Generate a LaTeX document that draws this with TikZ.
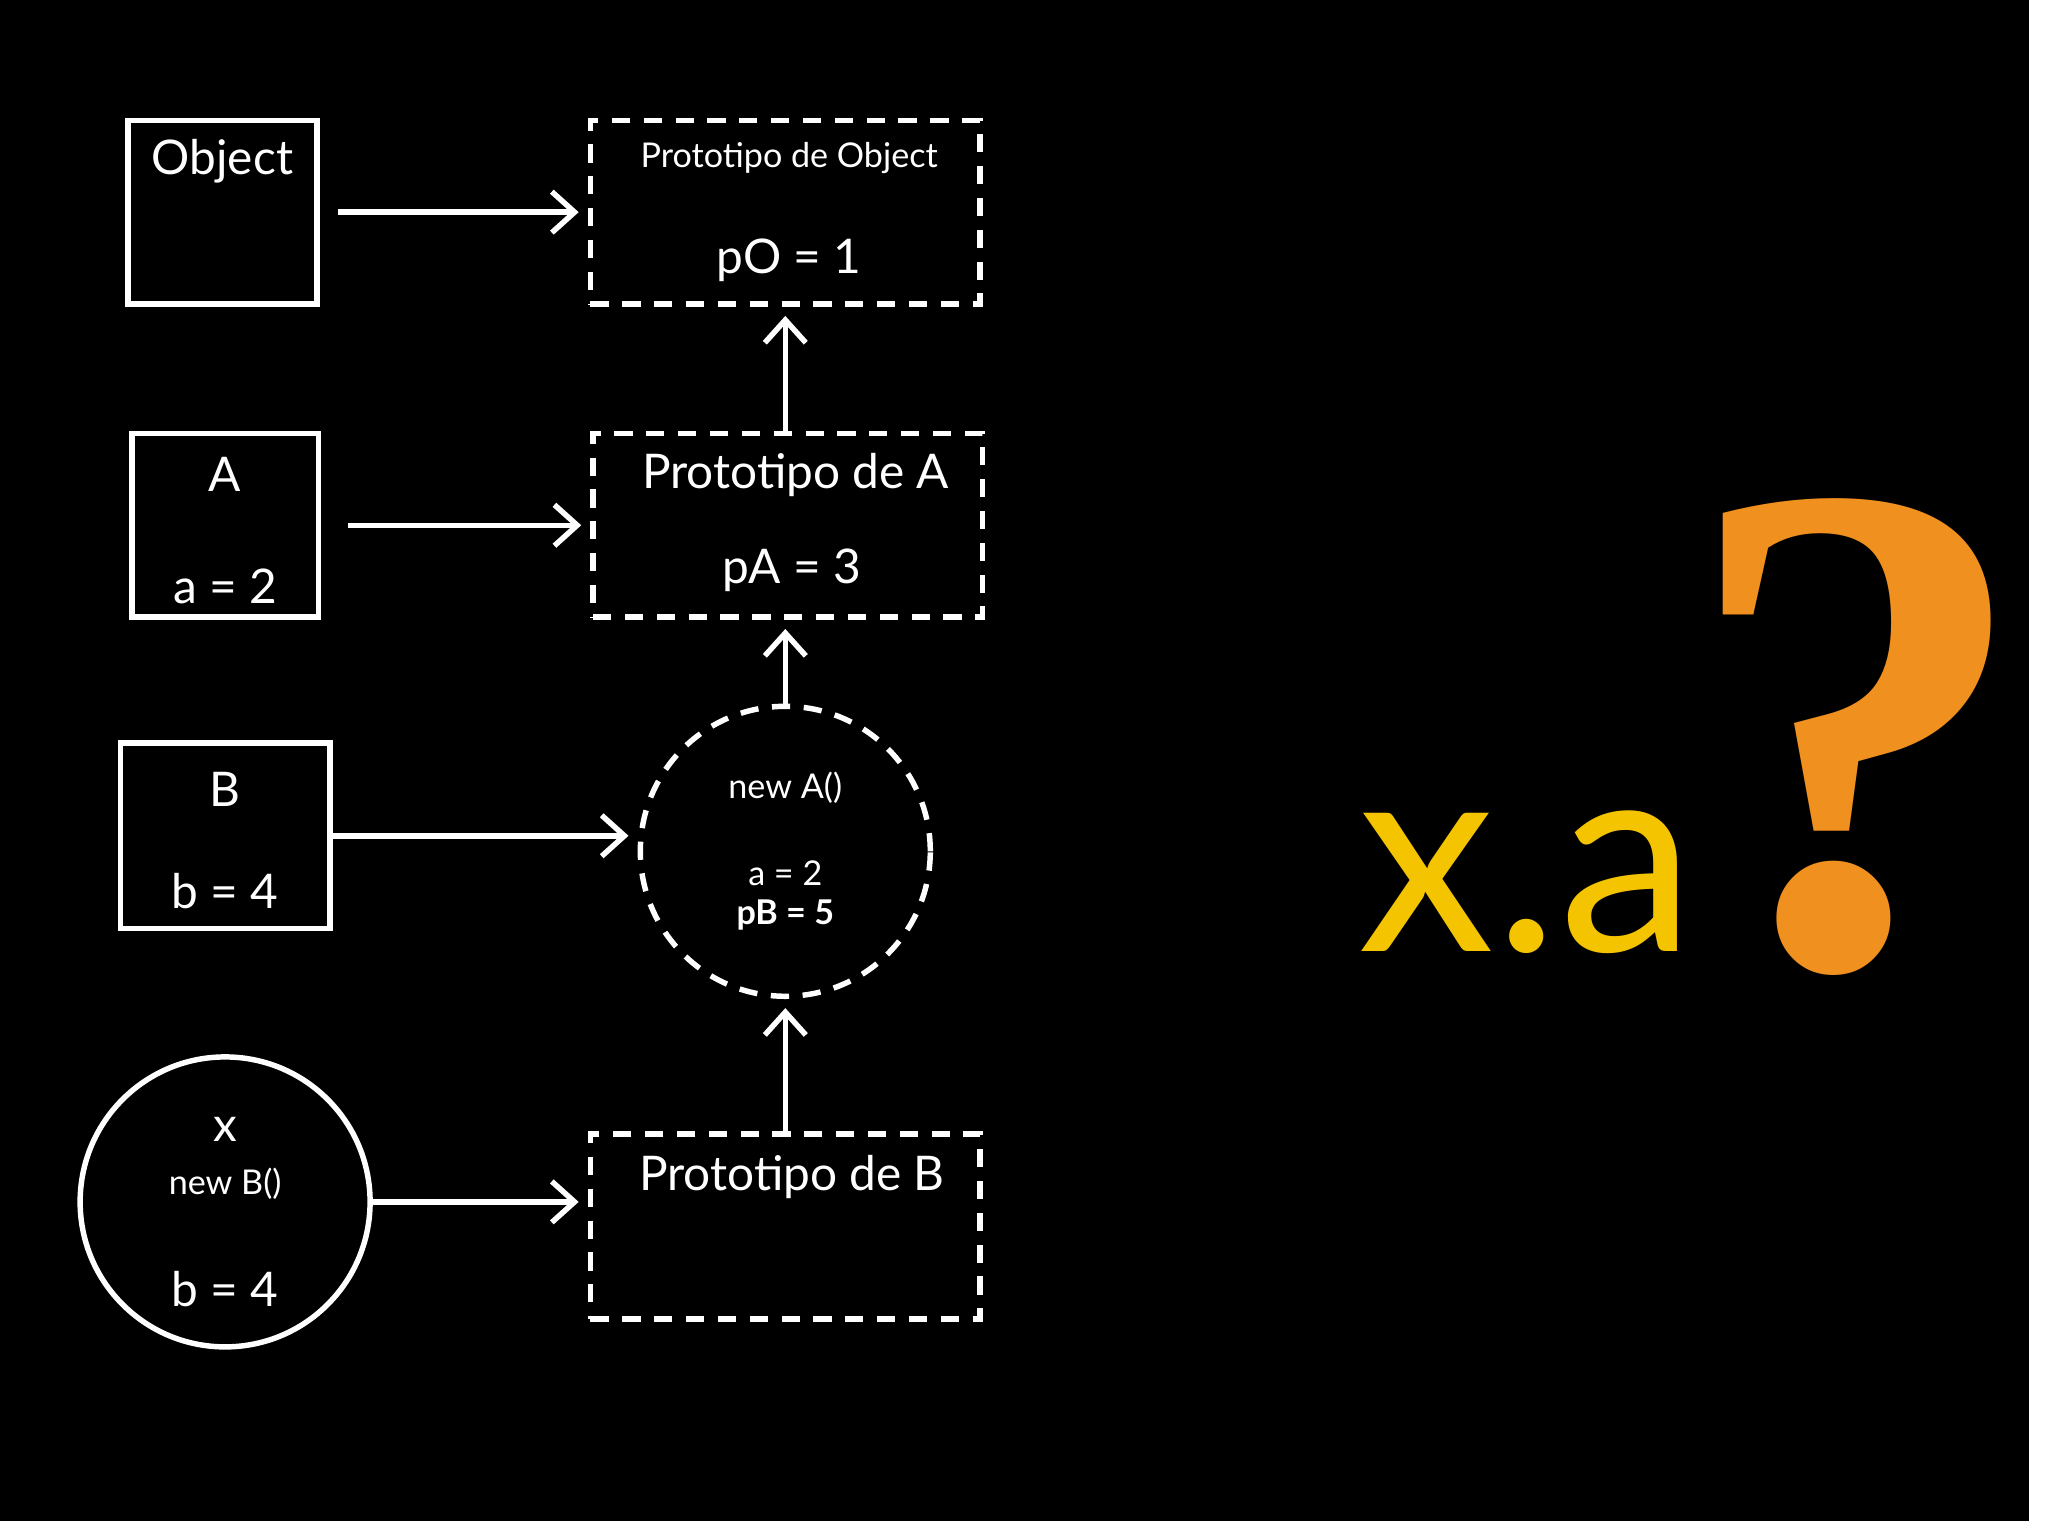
\documentclass[tikz,border=0pt]{standalone}
\usepackage{fontspec}
\setmainfont{Lato}
\newfontfamily\qfont{Liberation Serif}
\usetikzlibrary{arrows,arrows.meta}

\begin{document}
\begin{tikzpicture}[x=0.01cm,y=-0.01cm,line width=1.2pt,white,
	solidbox/.style={draw,rectangle},
	protobox/.style={draw,rectangle,dashed,dash pattern=on 4pt off 3pt},
	lbl/.style={text=white,font=\fontsize{10.5}{12}\selectfont},
	small/.style={text=white,font=\fontsize{7.5}{9}\selectfont},
	link/.style={-{Straight Barb[length=5pt,width=9pt]},shorten >=2pt}]
	\fill[black] (0,0) rectangle (1568,1176);

	% left column
	\node[solidbox,minimum width=1.46cm,minimum height=1.42cm] (obj) at (172,164) {};
	\node[solidbox,minimum width=1.44cm,minimum height=1.42cm] (a) at (174,406) {};
	\node[solidbox,minimum width=1.62cm,minimum height=1.43cm] (b) at (174,646) {};
	\node[draw,circle,minimum size=2.24cm] (x) at (174,929) {};

	% prototypes
	\node[protobox,minimum width=3.01cm,minimum height=1.42cm] (pobj) at (607,164) {};
	\node[protobox,minimum width=3.01cm,minimum height=1.42cm] (pa) at (609,406) {};
	\node[draw,circle,dashed,dash pattern=on 4pt off 3pt,minimum size=2.24cm] (na) at (607,658) {};
	\node[protobox,minimum width=3.01cm,minimum height=1.43cm] (pb) at (607,948) {};

	% texts
	\node[lbl] (tobj) at (172,125) {Object};
	\node[lbl] (ta) at (174,367) {A};
	\node[lbl] (tva) at (174,453) {a = 2};
	\node[lbl] (tb) at (174,610) {B};
	\node[lbl] (tvb) at (174,689) {b = 4};
	\node[lbl] (tx) at (174,873) {x};
	\node[small] (tnb) at (174,915) {new B()};
	\node[lbl] (tvx) at (174,996) {b = 4};
	\node[small] (tpobj) at (610,122) {Prototipo de Object};
	\node[lbl] (tpo) at (610,201) {pO = 1};
	\node[lbl] (tpa) at (615,367) {Prototipo de A};
	\node[lbl] (tpva) at (612,441) {pA = 3};
	\node[small] (tna) at (607,609) {new A()};
	\node[small] (tnva) at (607,675) {a = 2};
	\node[small,font=\fontsize{7.5}{9}\selectfont\bfseries] (tnpb) at (607,707) {pB = 5};
	\node[lbl] (tpb) at (612,910) {Prototipo de B};

	% links
	\draw[link] ([xshift=4]obj.east) -- (obj.east -| pobj.west);
	\draw[link] ([xshift=6]a.east) -- (a.east -| pa.west);
	\draw[link] (b.east) -- (b.east -| na.west);
	\draw[link] (x.east) -- (x.east -| pb.west);
	\draw[link] (pobj.south |- pa.north) -- (pobj.south);
	\draw[link] (na.north) -- (na.north |- pa.south);
	\draw[link] (na.south |- pb.north) -- (na.south);

	% question
	\node[text={rgb,255:red,245;green,196;blue,0},font=\fontsize{60}{70}\selectfont] (xa) at (1180,682) {x.a};
	\node[text={rgb,255:red,240;green,144;blue,30},font=\qfont\bfseries\fontsize{155}{160}\selectfont] (q) at (1435,570) {?};
\end{tikzpicture}
\end{document}
